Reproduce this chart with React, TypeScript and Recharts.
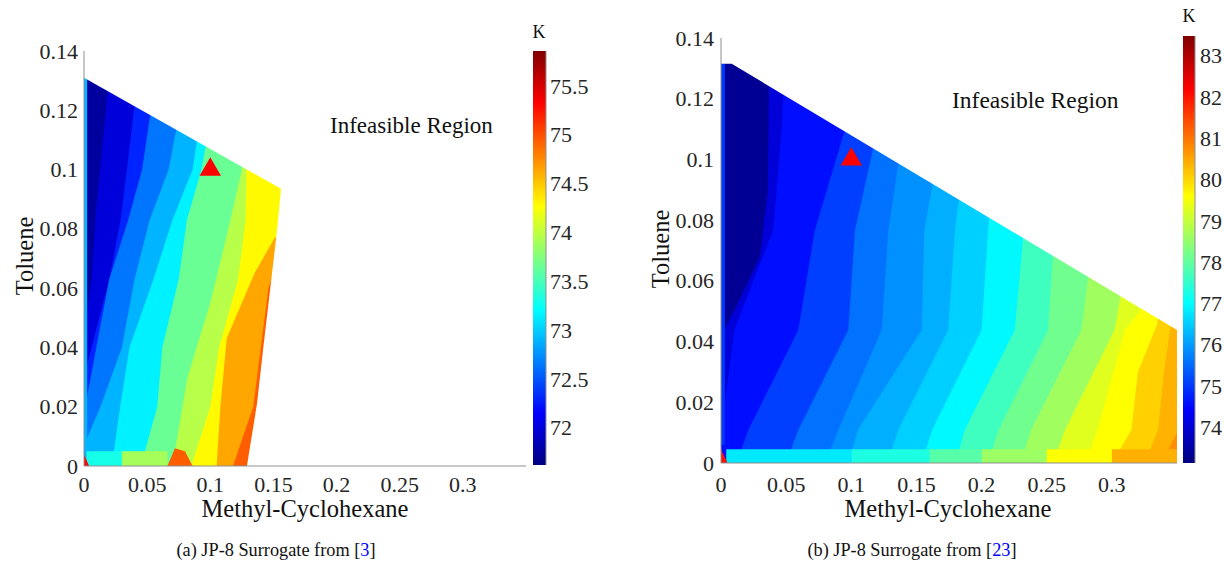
import React from 'react';
import { ComposedChart, Area, Scatter, XAxis, YAxis } from 'recharts';

const FONT = "'Liberation Serif', 'Times New Roman', serif";
const AXIS = '#8f8f8f';
const INK = '#262626';

const X_TICKS = [0, 0.05, 0.1, 0.15, 0.2, 0.25, 0.3];
const Y_TICKS = [0, 0.02, 0.04, 0.06, 0.08, 0.1, 0.12, 0.14];
const X_MAX = 0.35;
const Y_MAX = 0.14;
const OPTIMUM = [{ x: 0.1, y: 0.1 }];

// (a) JP-8 surrogate from [3]
const A_RANGE: [number, number] = [71.62, 75.86];
const A_CBAR_TICKS = [72, 72.5, 73, 73.5, 74, 74.5, 75, 75.5];
const A_BASE = 71.75;
const A_LEVELS = [72.0, 72.3, 72.64, 72.9, 73.15, 73.65, 73.97, 74.29, 74.64, 74.94];
// contour of each level as [x, y] points; the field is >= level below / right of it
const A_CONTOURS: number[][][] = [
  [[0, 0.045], [0.006, 0.063], [0.009, 0.083], [0.0127, 0.1], [0.022, 0.14]],
  [[0, 0.03], [0.02, 0.063], [0.029, 0.083], [0.034, 0.1], [0.045, 0.14]],
  [[0, 0.018], [0.012, 0.045], [0.02, 0.063], [0.035, 0.083], [0.046, 0.1], [0.06, 0.14]],
  [[0, 0.007], [0.013, 0.02], [0.03, 0.04], [0.04, 0.063], [0.052, 0.083], [0.067, 0.1], [0.085, 0.14]],
  [[0.022, 0], [0.0286, 0.02], [0.036, 0.04], [0.055, 0.063], [0.07, 0.083], [0.086, 0.1], [0.1, 0.14]],
  [[0.045, 0], [0.058, 0.02], [0.062, 0.04], [0.075, 0.063], [0.0815, 0.083], [0.093, 0.1], [0.11, 0.14]],
  [[0.07, 0], [0.082, 0.03], [0.1, 0.055], [0.116, 0.083], [0.125, 0.1], [0.135, 0.14]],
  [[0.085, 0], [0.1, 0.02], [0.107, 0.04], [0.122, 0.063], [0.128, 0.083], [0.13, 0.14]],
  [[0.105, 0], [0.108, 0.02], [0.113, 0.043], [0.135, 0.065], [0.151, 0.077], [0.17, 0.077]],
  [[0.118, 0], [0.134, 0.02], [0.14, 0.04], [0.146, 0.06], [0.15, 0.065], [0.17, 0.065]],
];
// small patches: value and [x, low, high] points
const A_PATCHES = [
  { v: 72.9, pts: [[0, 0.005, 0.131], [0.0025, 0.005, 0.131]] },
  { v: 73.3, pts: [[0.002, 0, 0.005], [0.03, 0, 0.005]] },
  { v: 73.9, pts: [[0.03, 0, 0.005], [0.066, 0, 0.005]] },
  { v: 74.94, pts: [[0.066, 0, 0], [0.072, 0, 0.006], [0.08, 0, 0.005], [0.086, 0, 0]] },
  { v: 75.3, pts: [[0, 0, 0.004], [0.004, 0, 0]] },
];
const A_TOP_EDGE = [[0, 0.131], [0.156, 0.0935], [0.35, 0.0935]];
const A_RIGHT_EDGE = [[0.129, 0], [0.137, 0.021], [0.142, 0.04], [0.1475, 0.06], [0.153, 0.08], [0.156, 0.0935], [0.157, 0.14], [0.35, 0.14]];

// (b) JP-8 surrogate from [23]
const B_RANGE: [number, number] = [73.14, 83.48];
const B_CBAR_TICKS = [74, 75, 76, 77, 78, 79, 80, 81, 82, 83];
const B_BASE = 73.35;
const B_LEVELS = [74.04, 74.56, 75.07, 75.59, 75.89, 76.21, 76.54, 76.95, 77.66, 78.15, 78.64, 79.29, 79.6, 80.07, 80.38, 80.74];
const B_CONTOURS: number[][][] = [
  [[0, 0.042], [0.01, 0.05], [0.03, 0.068], [0.036, 0.09], [0.037, 0.14]],
  [[0, 0.01], [0.0102, 0.0438], [0.04, 0.0767], [0.0465, 0.1096], [0.05, 0.14]],
  [[0.012, 0], [0.0209, 0.0109], [0.0593, 0.0438], [0.072, 0.0767], [0.095, 0.1096], [0.1, 0.14]],
  [[0.05, 0], [0.0593, 0.0109], [0.0977, 0.0438], [0.1028, 0.0767], [0.12, 0.1096], [0.125, 0.14]],
  [[0.08, 0], [0.09, 0.0109], [0.1233, 0.0438], [0.1284, 0.0767], [0.14, 0.1096]],
  [[0.098, 0], [0.105, 0.0109], [0.154, 0.0438], [0.156, 0.0767], [0.17, 0.11]],
  [[0.128, 0], [0.136, 0.0109], [0.1744, 0.0438], [0.1795, 0.0767], [0.19, 0.11]],
  [[0.154, 0], [0.162, 0.0109], [0.2, 0.0438], [0.205, 0.0767], [0.21, 0.11]],
  [[0.18, 0], [0.187, 0.0109], [0.2255, 0.0438], [0.232, 0.075], [0.24, 0.11]],
  [[0.205, 0], [0.213, 0.0109], [0.2511, 0.0438], [0.255, 0.07], [0.26, 0.11]],
  [[0.23, 0], [0.238, 0.0109], [0.2766, 0.0438], [0.283, 0.065], [0.29, 0.11]],
  [[0.255, 0], [0.264, 0.0109], [0.302, 0.0438], [0.308, 0.058], [0.31, 0.11]],
  [[0.28, 0], [0.289, 0.0109], [0.31, 0.0438], [0.325, 0.052], [0.33, 0.11]],
  [[0.3, 0], [0.315, 0.0109], [0.32, 0.03], [0.335, 0.046], [0.34, 0.11]],
  [[0.325, 0], [0.3355, 0.0109], [0.34, 0.03], [0.345, 0.045]],
  [[0.338, 0], [0.35, 0.01]],
];
const B_PATCHES = [
  { v: 75.0, pts: [[0, 0.006, 0.1315], [0.003, 0.006, 0.1315]] },
  { v: 76.8, pts: [[0.004, 0, 0.0045], [0.1, 0, 0.0045]] },
  { v: 77.3, pts: [[0.1, 0, 0.0045], [0.16, 0, 0.0045]] },
  { v: 77.9, pts: [[0.16, 0, 0.0045], [0.2, 0, 0.0045]] },
  { v: 78.6, pts: [[0.2, 0, 0.0045], [0.25, 0, 0.0045]] },
  { v: 79.6, pts: [[0.25, 0, 0.0045], [0.3, 0, 0.0045]] },
  { v: 80.4, pts: [[0.3, 0, 0.0045], [0.35, 0, 0.0045]] },
  { v: 82.0, pts: [[0, 0, 0.0045], [0.005, 0, 0]] },
];
const B_TOP_EDGE = [[0, 0.1315], [0.0082, 0.1315], [0.35, 0.0438]];

function jet(v: number, [lo, hi]: [number, number]) {
  const t = (v - lo) / (hi - lo);
  const c = (k: number) => Math.round(255 * Math.max(0, Math.min(1, 1.5 - Math.abs(4 * t - k))));
  return `rgb(${c(3)},${c(2)},${c(1)})`;
}

const below = (pts: number[][]) => {
  const d = pts.map(([x, y]) => ({ x, r: [0, y] }));
  const last = pts[pts.length - 1];
  if (last[0] < X_MAX) d.push({ x: X_MAX, r: [0, last[1]] });
  return d;
};
const above = (pts: number[][]) => pts.map(([x, y]) => ({ x, r: [y, Y_MAX] }));
const ranged = (pts: number[][]) => pts.map(([x, lo, hi]) => ({ x, r: [lo, hi] }));

const fillProps = { type: 'linear' as const, dataKey: 'r', stroke: 'none', fillOpacity: 1, dot: false, activeDot: false, isAnimationActive: false };
const tickFont = { fontSize: 22, fontFamily: FONT, fill: INK };
const line = { stroke: AXIS };

// tick label renderers: the library gives the tick coordinate, the offset is fixed
const xTick = (baseY: number) => (t: any) => (
  <text x={t.x} y={baseY} textAnchor="middle" {...tickFont}>{String(t.payload.value)}</text>
);
const yTick = (edgeX: number, anchor: 'start' | 'end') => (t: any) => (
  <text x={edgeX} y={t.y + 7.5} textAnchor={anchor} {...tickFont}>{String(t.payload.value)}</text>
);

type PanelProps = {
  left: number; width: number; height: number; labelY: number; labelX: number;
  margin: { top: number; right: number; bottom: number; left: number };
  range: [number, number]; base: number; levels: number[]; contours: number[][][];
  patches: { v: number; pts: number[][] }[]; topEdge: number[][]; rightEdge?: number[][];
};

function Panel(p: PanelProps) {
  return (
    <div style={{ position: 'absolute', left: p.left, top: 0 }}>
      <ComposedChart width={p.width} height={p.height} margin={p.margin}>
        <Area {...fillProps} data={below([[0, Y_MAX], [X_MAX, Y_MAX]])} fill={jet(p.base, p.range)} />
        {p.contours.map((c, i) => (
          <Area key={'c' + i} {...fillProps} data={below(c)} fill={jet(p.levels[i], p.range)} />
        ))}
        {p.patches.map((q, i) => (
          <Area key={'p' + i} {...fillProps} data={ranged(q.pts)} fill={jet(q.v, p.range)} />
        ))}
        <Area {...fillProps} data={above(p.topEdge)} fill="#ffffff" />
        {p.rightEdge && <Area {...fillProps} data={below(p.rightEdge)} fill="#ffffff" />}
        <Scatter
          data={OPTIMUM}
          dataKey="y"
          isAnimationActive={false}
          shape={(s: any) => (
            <polygon
              points={`${s.cx},${s.cy - 12.2} ${s.cx - 10.7},${s.cy + 6.1} ${s.cx + 10.7},${s.cy + 6.1}`}
              fill="#ff0000"
            />
          )}
        />
        <XAxis
          dataKey="x" type="number" domain={[0, X_MAX]} ticks={X_TICKS} interval={0} allowDataOverflow
          height={30} tickLine={false} tick={xTick(p.labelY)} axisLine={line}
        />
        <XAxis xAxisId="bt" mirror type="number" domain={[0, X_MAX]} ticks={X_TICKS} interval={0}
          allowDataOverflow height={0} tickSize={5} tick={false} axisLine={false} tickLine={line} />
        <XAxis xAxisId="t" orientation="top" mirror type="number" domain={[0, X_MAX]} ticks={X_TICKS}
          interval={0} allowDataOverflow height={0} tickSize={5} tick={false} axisLine={line} tickLine={line} />
        <YAxis
          type="number" domain={[0, Y_MAX]} ticks={Y_TICKS} interval={0} allowDataOverflow
          width={50} tickLine={false} tick={yTick(p.labelX, 'end')} axisLine={line}
        />
        <YAxis yAxisId="lt" mirror type="number" domain={[0, Y_MAX]} ticks={Y_TICKS} interval={0}
          allowDataOverflow width={0} tickSize={5} tick={false} axisLine={false} tickLine={line} />
        <YAxis yAxisId="r" orientation="right" mirror type="number" domain={[0, Y_MAX]} ticks={Y_TICKS}
          interval={0} allowDataOverflow width={0} tickSize={5} tick={false} axisLine={line} tickLine={line} />
      </ComposedChart>
    </div>
  );
}

function ColorBar({ left, width, height, margin, range, ticks, axisWidth, labelX }: {
  left: number; width: number; height: number; axisWidth: number; labelX: number;
  margin: { top: number; right: number; bottom: number; left: number };
  range: [number, number]; ticks: number[];
}) {
  return (
    <div style={{ position: 'absolute', left, top: 0 }}>
      <ComposedChart width={width} height={height} margin={margin}>
        <Area {...fillProps} data={[{ x: 0, r: range }, { x: 1, r: range }]} fill="url(#jetGrad)" />
        <XAxis dataKey="x" type="number" domain={[0, 1]} height={0} tick={false} tickLine={false} axisLine={line} />
        <XAxis xAxisId="t" orientation="top" type="number" domain={[0, 1]} height={0} tick={false} tickLine={false} axisLine={line} />
        <YAxis yAxisId="l" type="number" domain={range} width={0} tick={false} tickLine={false} axisLine={line} />
        <YAxis
          orientation="right" type="number" domain={range} ticks={ticks} interval={0} allowDataOverflow
          width={axisWidth} tickLine={false} tick={yTick(labelX, 'start')} axisLine={line}
        />
        <YAxis yAxisId="rt" orientation="right" mirror type="number" domain={range} ticks={ticks} interval={0}
          allowDataOverflow width={0} tickSize={4} tick={false} axisLine={false} tickLine={{ stroke: INK }} />
      </ComposedChart>
    </div>
  );
}

export default function App() {
  const txt = { fontFamily: FONT, fill: '#111' };
  return (
    <div style={{ position: 'relative', width: 1225, height: 576, background: '#fff', overflow: 'hidden' }}>
      <style>{'body{margin:0}'}</style>
      <svg width={0} height={0} style={{ position: 'absolute' }}>
        <defs>
          <linearGradient id="jetGrad" x1="0" y1="1" x2="0" y2="0">
            <stop offset="0" stopColor="#000080" />
            <stop offset="0.125" stopColor="#0000ff" />
            <stop offset="0.375" stopColor="#00ffff" />
            <stop offset="0.625" stopColor="#ffff00" />
            <stop offset="0.875" stopColor="#ff0000" />
            <stop offset="1" stopColor="#800000" />
          </linearGradient>
        </defs>
      </svg>
      <Panel
        left={0} width={530} height={520} margin={{ top: 51, right: 4, bottom: 24, left: 34 }}
        labelY={492} labelX={78}
        range={A_RANGE} base={A_BASE} levels={A_LEVELS} contours={A_CONTOURS}
        patches={A_PATCHES} topEdge={A_TOP_EDGE} rightEdge={A_RIGHT_EDGE}
      />
      <ColorBar left={520} width={100} height={520} axisWidth={50} labelX={30}
        margin={{ top: 51, right: 24, bottom: 55, left: 13 }} range={A_RANGE} ticks={A_CBAR_TICKS} />
      <Panel
        left={640} width={540} height={520} margin={{ top: 38, right: 3, bottom: 27, left: 31 }}
        labelY={492} labelX={74}
        range={B_RANGE} base={B_BASE} levels={B_LEVELS} contours={B_CONTOURS}
        patches={B_PATCHES} topEdge={B_TOP_EDGE}
      />
      <ColorBar left={1170} width={55} height={520} axisWidth={30} labelX={30}
        margin={{ top: 36, right: 0, bottom: 57, left: 13 }} range={B_RANGE} ticks={B_CBAR_TICKS} />
      <svg width={1225} height={576} style={{ position: 'absolute', left: 0, top: 0, pointerEvents: 'none' }}>
        <text {...txt} x={330} y={133} fontSize={23}>Infeasible Region</text>
        <text {...txt} x={952} y={108} fontSize={23.5}>Infeasible Region</text>
        <text {...txt} x={539} y={38} fontSize={18} textAnchor="middle">K</text>
        <text {...txt} x={1189} y={22} fontSize={18} textAnchor="middle">K</text>
        <text {...txt} fontSize={24.5} textAnchor="middle" transform="translate(33,256) rotate(-90)">Toluene</text>
        <text {...txt} fontSize={24.5} textAnchor="middle" transform="translate(669,249) rotate(-90)">Toluene</text>
        <text {...txt} x={305} y={517} fontSize={24.5} textAnchor="middle">Methyl-Cyclohexane</text>
        <text {...txt} x={948} y={517} fontSize={24.5} textAnchor="middle">Methyl-Cyclohexane</text>
        <text {...txt} x={276} y={556} fontSize={18.3} textAnchor="middle">
          (a) JP-8 Surrogate from [<tspan fill="#0000ff">3</tspan>]
        </text>
        <text {...txt} x={912} y={556} fontSize={18.3} textAnchor="middle">
          (b) JP-8 Surrogate from [<tspan fill="#0000ff">23</tspan>]
        </text>
      </svg>
    </div>
  );
}
